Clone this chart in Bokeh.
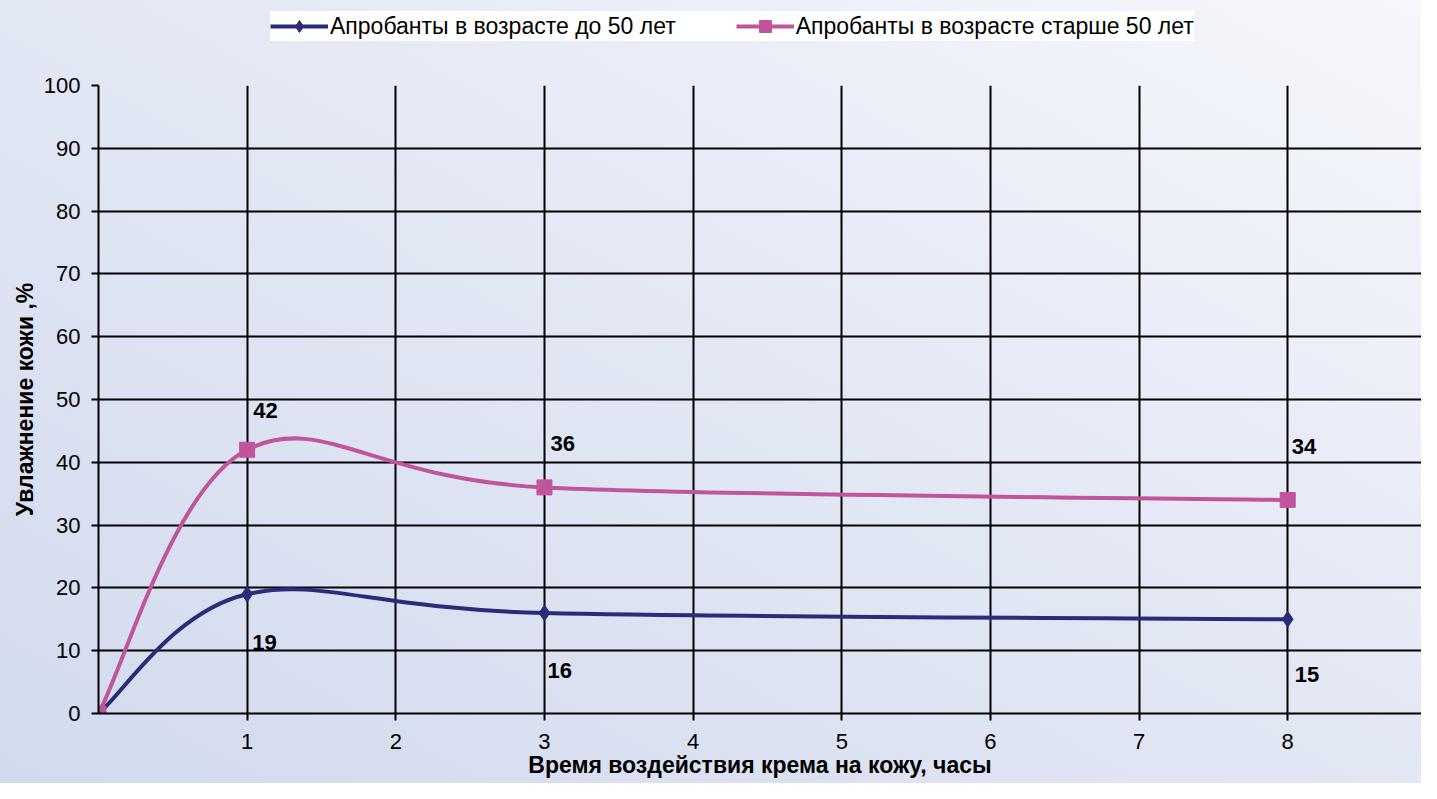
import numpy as np
from bokeh.plotting import figure
from bokeh.layouts import column
from bokeh.models import (Range1d, FixedTicker, Legend, LegendItem, ColumnDataSource)
from bokeh.core.properties import value
from bokeh.embed import file_html
from bokeh.resources import INLINE

# ---- data ----
hours = [0, 1, 3, 8]
under50 = [0, 19, 16, 15]
over50 = [0, 42, 36, 34]
x_ticks = [1, 2, 3, 4, 5, 6, 7, 8, 9]
y_ticks = [0, 10, 20, 30, 40, 50, 60, 70, 80, 90, 100]
series_names = ["Апробанты в возрасте до 50 лет", "Апробанты в возрасте старше 50 лет"]
x_title = "Время воздействия крема на кожу, часы"
y_title = "Увлажнение кожи ,%"

NAVY = "#2a2c7b"
PINK = "#c0559e"
FONT = "Liberation Sans"

W = 1421
LEG_H = 55
MAIN_H = 783 - LEG_H

# ---------------- main chart ----------------
p = figure(width=W, height=MAIN_H, output_backend="svg", toolbar_location=None,
           x_range=Range1d(0, 8.9), y_range=Range1d(y_ticks[0], y_ticks[-1]),
           min_border_left=98, min_border_right=0, min_border_top=30, min_border_bottom=70)
p.background_fill_color = None
p.border_fill_color = None
p.outline_line_color = None

for ax in (p.xaxis[0], p.yaxis[0]):
    ax.axis_line_color = "black"
    ax.axis_line_width = 2
    ax.major_tick_line_color = "black"
    ax.major_tick_line_width = 2
    ax.major_tick_in = 0
    ax.major_tick_out = 7
    ax.minor_tick_line_color = None
    ax.major_label_text_font = FONT
    ax.major_label_text_font_size = "22px"
    ax.major_label_text_color = "black"
    ax.axis_label_text_font = FONT
    ax.axis_label_text_font_size = "23px"
    ax.axis_label_text_font_style = "bold"
    ax.axis_label_text_color = "black"

p.xaxis.ticker = FixedTicker(ticks=x_ticks)
p.yaxis.ticker = FixedTicker(ticks=y_ticks)
p.xaxis.major_label_standoff = 13
p.yaxis.major_label_standoff = 11
p.xaxis.axis_label = x_title
p.yaxis.axis_label = y_title
p.xaxis.axis_label_standoff = 0
p.yaxis.axis_label_standoff = 3

p.xgrid.ticker = FixedTicker(ticks=x_ticks)
p.ygrid.ticker = FixedTicker(ticks=y_ticks[1:])
for g in (p.xgrid[0], p.ygrid[0]):
    g.grid_line_color = "black"
    g.grid_line_width = 2


def smooth_segments(xs, ys):
    P = np.column_stack([np.asarray(xs, float), np.asarray(ys, float)])
    n = len(P)
    seg = dict(x0=[], y0=[], x1=[], y1=[], cx0=[], cy0=[], cx1=[], cy1=[])
    for i in range(n - 1):
        prev = P[i - 1] if i > 0 else P[i]
        nxt = P[i + 2] if i + 2 < n else P[i + 1]
        c0 = P[i] + (P[i + 1] - prev) / 6.0
        c1 = P[i + 1] - (nxt - P[i]) / 6.0
        seg["x0"].append(P[i][0]); seg["y0"].append(P[i][1])
        seg["x1"].append(P[i + 1][0]); seg["y1"].append(P[i + 1][1])
        seg["cx0"].append(c0[0]); seg["cy0"].append(c0[1])
        seg["cx1"].append(c1[0]); seg["cy1"].append(c1[1])
    return ColumnDataSource(seg)


styles = [
    (under50, NAVY, "diamond", 16, series_names[0]),
    (over50, PINK, "square", 15, series_names[1]),
]
for ys, color, marker, size, name in styles:
    p.bezier(x0="x0", y0="y0", x1="x1", y1="y1", cx0="cx0", cy0="cy0", cx1="cx1", cy1="cy1",
             source=smooth_segments(hours, ys), line_color=color, line_width=4)
    p.scatter(hours, ys, marker=marker, size=size, fill_color=color, line_color=color)

# data labels
lab_x = hours[1:] + hours[1:]
lab_y = under50[1:] + over50[1:]
lab_t = [str(v) for v in under50[1:]] + [str(v) for v in over50[1:]]
lab_dx = [5, 3, 7, 6, 6, 4]
lab_dy = [48, 57, 55, -39, -44, -53]
p.text(x=lab_x, y=lab_y, text=lab_t, x_offset=lab_dx, y_offset=lab_dy,
       text_font=value(FONT), text_font_size="22px", text_font_style="bold",
       text_align="left", text_baseline="middle", text_color="black")

# ---------------- legend strip ----------------
lg = figure(width=W, height=LEG_H, output_backend="svg", toolbar_location=None,
            x_axis_location=None, y_axis_location=None,
            min_border_left=0, min_border_right=0, min_border_top=0, min_border_bottom=0)
lg.background_fill_color = None
lg.border_fill_color = None
lg.outline_line_color = None
lg.xgrid.visible = False
lg.ygrid.visible = False

items = []
for ys, color, marker, size, name in styles:
    ln = lg.line(hours[:1], ys[:1], line_color=color, line_width=4, visible=False)
    sc = lg.scatter(hours[:1], ys[:1], marker=marker, size=size, fill_color=color,
                    line_color=color, visible=False)
    items.append(LegendItem(label=name, renderers=[ln, sc]))

legend = Legend(items=items, orientation="horizontal", location=(172, 14),
                label_text_font=FONT, label_text_font_size="23px", label_text_color="black",
                glyph_width=58, glyph_height=30, label_height=30, label_standoff=2,
                spacing=60, padding=2, margin=0, inactive_fill_alpha=0,
                border_line_color=None, background_fill_color="white", background_fill_alpha=1)
lg.add_layout(legend, "center")

layout = column(lg, p, spacing=0)
layout.styles = {"background-image": "linear-gradient(to top right, #d2daee 0%, #e2e7f4 50%, #f6f7fc 100%)"}

open("out.html", "w").write(file_html(layout, INLINE))
